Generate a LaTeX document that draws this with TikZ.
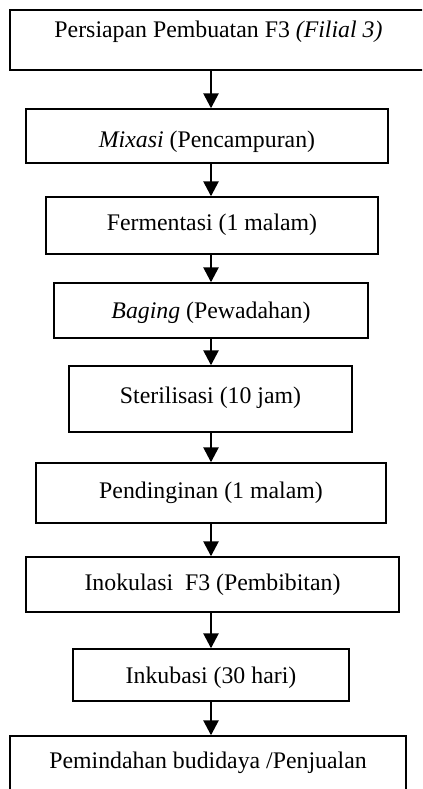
\documentclass[tikz,border=0pt]{standalone}
\usepackage{fontspec}
\setmainfont{Liberation Serif}
\usetikzlibrary{arrows.meta}
\begin{document}
\begin{tikzpicture}[x=1bp,y=-1bp,
  stepbox/.style={draw,line width=1.4bp,rectangle,inner sep=0pt,minimum width=#1},
  txt/.style={anchor=base,inner sep=0pt,font=\fontsize{23.9}{28}\selectfont},
  arr/.style={line width=2.6bp,-{Triangle[width=15bp,length=15bp]}}]
\useasboundingbox (0,0) rectangle (422,789);
\clip (0,0) rectangle (422,789);
\coordinate (ax) at (211,0);
\node[stepbox=417bp,minimum height=60bp] (b1) at (218.5,40) {};
\node[stepbox=362bp,minimum height=54bp] (b2) at (207,136) {};
\node[stepbox=332bp,minimum height=57bp] (b3) at (212,225.5) {};
\node[stepbox=314bp,minimum height=55bp] (b4) at (211,310.5) {};
\node[stepbox=283bp,minimum height=66bp] (b5) at (210.5,399) {};
\node[stepbox=350bp,minimum height=60bp] (b6) at (211,493) {};
\node[stepbox=373bp,minimum height=55bp] (b7) at (212.5,584.5) {};
\node[stepbox=276bp,minimum height=52bp] (b8) at (211,675) {};
\node[stepbox=396bp,minimum height=64bp] (b9) at (208,768) {};
\node[txt] (t1) at (218.5,38) {Persiapan Pembuatan F3 \textit{(Filial 3)}};
\node[txt] (t2) at (207,147) {\textit{Mixasi} (Pencampuran)};
\node[txt] (t3) at (212,230) {Fermentasi (1 malam)};
\node[txt] (t4) at (211,318) {\textit{Baging} (Pewadahan)};
\node[txt] (t5) at (210.5,403) {Sterilisasi (10 jam)};
\node[txt] (t6) at (211,498) {Pendinginan (1 malam)};
\node[txt] (t7) at (212.5,590) {Inokulasi\ \ F3 (Pembibitan)};
\node[txt] (t8) at (211,683) {Inkubasi (30 hari)};
\node[txt] (t9) at (208,768) {Pemindahan budidaya /Penjualan};
\foreach \a/\b in {b1/b2,b2/b3,b3/b4,b4/b5,b5/b6,b6/b7,b7/b8,b8/b9}
  \draw[arr] (\a.south -| ax) -- (\b.north -| ax);
\end{tikzpicture}
\end{document}
